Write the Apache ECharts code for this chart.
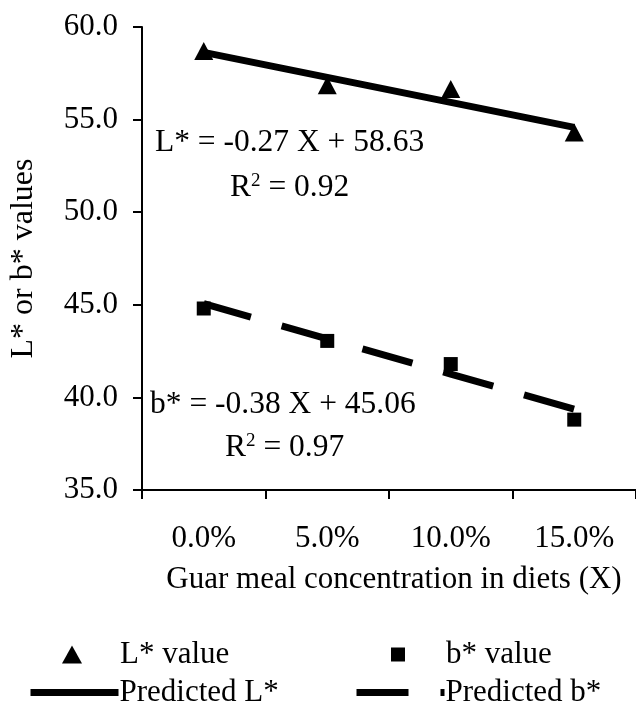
<!DOCTYPE html>
<html>
<head>
<meta charset="utf-8">
<script src="https://cdn.jsdelivr.net/npm/echarts@6/dist/echarts.min.js"></script>
<style>
  html, body { margin: 0; padding: 0; background: #fff; }
  #chart { width: 636px; height: 707px; }
</style>
</head>
<body>
<div id="chart"></div>
<script>
var categories = ['0.0%', '5.0%', '10.0%', '15.0%']
var lValues = [58.7, 56.85, 56.65, 54.3]
var bValues = [44.8, 43.05, 41.8, 38.8]
var lPredicted = [58.63, 57.28, 55.93, 54.58]
var bPredicted = [45.06, 43.16, 41.26, 39.36]
var yTicks = [35, 40, 45, 50, 55, 60]

var FONT = '"Liberation Serif", "Times New Roman", serif'
var SIZE = 31

var chart = echarts.init(document.getElementById('chart'))

// one legend per entry so each can sit where the original puts it
function legendItem(name, left, top, w, h, pad, extra) {
  var l = {
    data: [name],
    left: left,
    top: top,
    itemWidth: w,
    itemHeight: h,
    padding: 0,
    selectedMode: false,
    textStyle: { fontFamily: FONT, fontSize: SIZE, color: '#000', padding: [0, 0, 0, pad] }
  }
  return Object.assign(l, extra || {})
}

function r2(value) {
  return {
    text: '{a|R}{s|2}{a| = ' + value + '}',
    fill: '#000',
    rich: {
      a: { fontFamily: FONT, fontSize: 31.5, lineHeight: 32 },
      s: { fontFamily: FONT, fontSize: 19, verticalAlign: 'top', lineHeight: 26 }
    }
  }
}

var option = {
  backgroundColor: '#fff',
  animation: false,
  grid: { left: 138, top: 27, width: 500, height: 463 },
  xAxis: {
    type: 'category',
    data: categories,
    boundaryGap: true,
    name: 'Guar meal concentration in diets (X)',
    nameLocation: 'middle',
    nameGap: 74,
    nameTextStyle: { fontFamily: FONT, fontSize: SIZE, color: '#000', padding: [0, 0, 0, 10] },
    axisLine: { lineStyle: { color: '#000', width: 2 } },
    axisTick: { show: true, length: 9, lineStyle: { color: '#000', width: 2 } },
    axisLabel: { fontFamily: FONT, fontSize: SIZE, color: '#000', margin: 33 },
    splitLine: { show: false }
  },
  yAxis: {
    type: 'value',
    min: yTicks[0],
    max: yTicks[yTicks.length - 1],
    interval: 5,
    name: 'L* or b* values',
    nameLocation: 'middle',
    nameGap: 102,
    nameTextStyle: { fontFamily: FONT, fontSize: 32, color: '#000' },
    axisLine: { show: true, lineStyle: { color: '#000', width: 2 } },
    axisTick: { show: true, length: 9, lineStyle: { color: '#000', width: 2 } },
    axisLabel: {
      fontFamily: FONT, fontSize: SIZE, color: '#000', margin: 24,
      formatter: function (v) { return v.toFixed(1) }
    },
    splitLine: { show: false }
  },
  legend: [
    legendItem('L* value', 62, 639, 20, 18, 33, { icon: 'triangle' }),
    legendItem('b* value', 391, 639, 14, 14, 36, { icon: 'rect' }),
    legendItem('Predicted L*', 27, 677, 88, 7, -4, { lineStyle: { width: 7 } }),
    legendItem('Predicted b*', 353, 677, 88, 7, -4, { lineStyle: { width: 7, type: [52, 32], dashOffset: 0 } })
  ],
  series: [
    {
      name: 'Predicted L*',
      type: 'line',
      data: lPredicted,
      symbol: 'none',
      lineStyle: { color: '#000', width: 7, cap: 'butt' },
      itemStyle: { color: '#000' },
      z: 2
    },
    {
      name: 'Predicted b*',
      type: 'line',
      data: bPredicted,
      symbol: 'none',
      lineStyle: { color: '#000', width: 7, type: [52, 32], dashOffset: 3, cap: 'butt' },
      itemStyle: { color: '#000' },
      z: 2
    },
    {
      name: 'L* value',
      type: 'scatter',
      data: lValues,
      symbol: 'triangle',
      symbolSize: [19, 18],
      itemStyle: { color: '#000', opacity: 1 },
      z: 3
    },
    {
      name: 'b* value',
      type: 'scatter',
      data: bValues,
      symbol: 'rect',
      symbolSize: 14,
      itemStyle: { color: '#000', opacity: 1 },
      z: 3
    }
  ],
  graphic: [
    {
      type: 'text', left: 155, top: 127,
      style: { text: 'L* = -0.27 X + 58.63', font: '31.5px ' + FONT, fill: '#000' }
    },
    { type: 'text', left: 230, top: 172, style: r2('0.92') },
    {
      type: 'text', left: 150, top: 389,
      style: { text: 'b* = -0.38 X + 45.06', font: '31.5px ' + FONT, fill: '#000' }
    },
    { type: 'text', left: 225, top: 432, style: r2('0.97') }
  ]
}

chart.setOption(option)
</script>
</body>
</html>
